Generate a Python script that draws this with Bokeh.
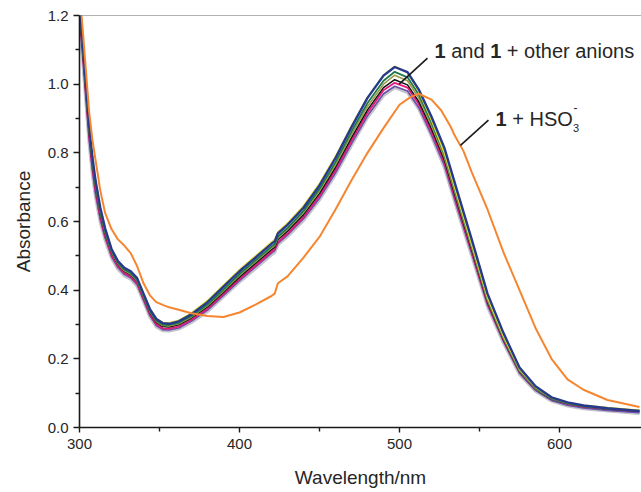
from bokeh.plotting import figure
from bokeh.models import Range1d, FixedTicker, PrintfTickFormatter, Label, ColumnDataSource, Span
from bokeh.embed import file_html
from bokeh.resources import INLINE

# ---------------- data ----------------
wavelength = [300, 302, 304, 306, 308, 310, 313, 316, 320, 324, 328, 332, 336, 340, 344, 348, 352, 356, 362, 370,
              380, 390, 400, 410, 420, 422, 424, 430, 440, 450, 460, 470, 480, 490, 497, 505, 512, 520, 528, 536,
              545, 555, 565, 575, 585, 595, 605, 615, 630, 650]

blue = [1.24, 1.12, 1.00, 0.88, 0.79, 0.72, 0.64, 0.58, 0.52, 0.485, 0.465, 0.455, 0.435, 0.39, 0.345, 0.316, 0.304, 0.302, 0.309, 0.33,
        0.365, 0.41, 0.455, 0.495, 0.535, 0.542, 0.565, 0.59, 0.64, 0.705, 0.785, 0.875, 0.96, 1.025, 1.05, 1.035, 0.985, 0.905, 0.815, 0.69,
        0.55, 0.39, 0.275, 0.175, 0.12, 0.088, 0.073, 0.064, 0.056, 0.048]
yellow = [1.24, 1.12, 1.0, 0.88, 0.79, 0.72, 0.64, 0.58, 0.52, 0.485, 0.465, 0.455, 0.435, 0.39, 0.346, 0.318, 0.306, 0.305, 0.312, 0.334,
          0.37, 0.415, 0.46, 0.5, 0.54, 0.547, 0.57, 0.595, 0.646, 0.711, 0.79, 0.879, 0.962, 1.026, 1.052, 1.033, 0.98, 0.895, 0.8, 0.675,
          0.535, 0.378, 0.265, 0.17, 0.117, 0.087, 0.073, 0.065, 0.058, 0.05]
green = [1.23, 1.11, 0.99, 0.87, 0.78, 0.71, 0.63, 0.572, 0.515, 0.48, 0.46, 0.45, 0.43, 0.385, 0.34, 0.312, 0.3, 0.299, 0.305, 0.325,
         0.358, 0.402, 0.447, 0.487, 0.527, 0.534, 0.556, 0.581, 0.631, 0.695, 0.773, 0.862, 0.945, 1.01, 1.036, 1.02, 0.97, 0.888, 0.796, 0.67,
         0.532, 0.375, 0.263, 0.168, 0.115, 0.085, 0.071, 0.063, 0.056, 0.049]
olive = [1.23, 1.11, 0.985, 0.865, 0.775, 0.705, 0.625, 0.568, 0.512, 0.477, 0.457, 0.447, 0.427, 0.382, 0.337, 0.309, 0.297, 0.296, 0.302, 0.322,
         0.355, 0.398, 0.443, 0.483, 0.523, 0.53, 0.552, 0.577, 0.626, 0.689, 0.766, 0.853, 0.935, 1.0, 1.026, 1.01, 0.96, 0.88, 0.788, 0.663,
         0.526, 0.37, 0.259, 0.165, 0.113, 0.084, 0.07, 0.062, 0.055, 0.048]
black = [1.22, 1.10, 0.98, 0.86, 0.77, 0.70, 0.62, 0.565, 0.51, 0.475, 0.455, 0.445, 0.425, 0.38, 0.335, 0.306, 0.294, 0.293, 0.299, 0.319,
         0.351, 0.394, 0.438, 0.478, 0.518, 0.525, 0.547, 0.572, 0.62, 0.682, 0.758, 0.844, 0.925, 0.99, 1.013, 0.998, 0.95, 0.87, 0.78, 0.656,
         0.52, 0.366, 0.256, 0.163, 0.112, 0.083, 0.069, 0.061, 0.054, 0.047]
pink = [1.21, 1.09, 0.97, 0.85, 0.76, 0.69, 0.612, 0.558, 0.503, 0.47, 0.45, 0.44, 0.42, 0.375, 0.33, 0.301, 0.289, 0.288, 0.294, 0.314,
        0.346, 0.389, 0.432, 0.472, 0.512, 0.519, 0.54, 0.565, 0.613, 0.675, 0.75, 0.836, 0.917, 0.982, 1.004, 0.99, 0.942, 0.862, 0.772, 0.648,
        0.514, 0.362, 0.254, 0.162, 0.112, 0.083, 0.069, 0.061, 0.054, 0.047]
purple = [1.2, 1.08, 0.96, 0.84, 0.75, 0.68, 0.605, 0.552, 0.498, 0.466, 0.446, 0.436, 0.416, 0.371, 0.326, 0.297, 0.285, 0.284, 0.29, 0.31,
          0.342, 0.385, 0.428, 0.468, 0.508, 0.515, 0.536, 0.561, 0.608, 0.668, 0.742, 0.827, 0.908, 0.972, 0.994, 0.98, 0.932, 0.852, 0.764, 0.641,
          0.508, 0.357, 0.25, 0.158, 0.108, 0.079, 0.065, 0.057, 0.05, 0.043]
gray = [1.19, 1.07, 0.95, 0.83, 0.74, 0.672, 0.598, 0.546, 0.493, 0.461, 0.442, 0.432, 0.412, 0.367, 0.322, 0.293, 0.282, 0.281, 0.287, 0.306,
        0.338, 0.381, 0.424, 0.463, 0.503, 0.51, 0.532, 0.556, 0.603, 0.663, 0.737, 0.822, 0.903, 0.967, 0.99, 0.976, 0.928, 0.848, 0.758, 0.635,
        0.502, 0.352, 0.246, 0.155, 0.106, 0.077, 0.063, 0.055, 0.048, 0.041]

wavelength_hso3 = [300, 302, 304, 306, 308, 310, 313, 316, 320, 324, 328, 332, 336, 340, 344, 348, 352, 356, 362, 370,
                   380, 390, 400, 410, 420, 422, 424, 430, 440, 450, 460, 470, 480, 490, 500, 507, 512, 520, 526, 532,
                   534, 540, 545, 555, 565, 575, 585, 595, 605, 615, 630, 650]
hso3 = [1.27, 1.16, 1.04, 0.92, 0.84, 0.78, 0.69, 0.625, 0.578, 0.548, 0.53, 0.508, 0.47, 0.42, 0.385, 0.365, 0.357, 0.35, 0.343, 0.333,
        0.325, 0.322, 0.335, 0.358, 0.383, 0.39, 0.42, 0.44, 0.495, 0.555, 0.635, 0.72, 0.80, 0.872, 0.94, 0.963, 0.972, 0.955, 0.924, 0.876,
        0.855, 0.805, 0.745, 0.635, 0.51, 0.40, 0.29, 0.20, 0.14, 0.11, 0.08, 0.06]

x_ticks = [300, 400, 500, 600]
x_minor = [350, 450, 550]
y_ticks = [0.0, 0.2, 0.4, 0.6, 0.8, 1.0, 1.2]
y_minor = [0.1, 0.3, 0.5, 0.7, 0.9, 1.1]

FONT = "Liberation Sans"
TXT = "#262626"

# ---------------- figure ----------------
p = figure(width=641, height=492, output_backend="svg", toolbar_location=None,
           x_range=Range1d(300, 651.25), y_range=Range1d(0, 1.2),
           min_border_left=79, min_border_right=0, min_border_top=15, min_border_bottom=65)
p.background_fill_color = "white"
p.border_fill_color = "white"
p.outline_line_color = None
p.xgrid.visible = False
p.ygrid.visible = False

p.add_layout(Span(location=1.2, dimension="width", line_color="#666666", line_width=1.2))

src = ColumnDataSource(dict(x=wavelength, blue=blue, yellow=yellow, green=green, olive=olive,
                            black=black, pink=pink, purple=purple, gray=gray))
p.line("x", "gray", source=src, line_color="#c3c3cb", line_width=3.2)
p.line("x", "purple", source=src, line_color="#6a50a8", line_width=1.6)
p.line("x", "pink", source=src, line_color="#e6197b", line_width=1.8)
p.line("x", "black", source=src, line_color="#111111", line_width=1.5)
p.line("x", "olive", source=src, line_color="#9d9a4a", line_width=1.6)
p.line("x", "green", source=src, line_color="#1e7a4c", line_width=1.8)
p.line("x", "yellow", source=src, line_color="#e3db35", line_width=1.6)
p.line("x", "blue", source=src, line_color="#26398c", line_width=2.4)
p.line(wavelength_hso3, hso3, line_color="#f5862f", line_width=2.0)

# axes
for ax in (p.xaxis[0], p.yaxis[0]):
    ax.axis_line_color = "#1a1a1a"
    ax.axis_line_width = 1.6
    ax.major_tick_line_color = "#1a1a1a"
    ax.minor_tick_line_color = "#1a1a1a"
    ax.major_tick_line_width = 1.4
    ax.minor_tick_line_width = 1.4
    ax.major_tick_in = 0
    ax.minor_tick_in = 0
    ax.major_label_text_font = FONT
    ax.major_label_text_font_size = "15px"
    ax.major_label_text_color = TXT
    ax.axis_label_text_font = FONT
    ax.axis_label_text_font_size = "19px"
    ax.axis_label_text_font_style = "normal"
    ax.axis_label_text_color = TXT

p.xaxis.ticker = FixedTicker(ticks=x_ticks, minor_ticks=x_minor)
p.yaxis.ticker = FixedTicker(ticks=y_ticks, minor_ticks=y_minor)
p.yaxis.formatter = PrintfTickFormatter(format="%.1f")
p.xaxis.major_tick_out = 5
p.xaxis.minor_tick_out = 4
p.yaxis.major_tick_out = 6
p.yaxis.minor_tick_out = 4
p.xaxis.major_label_standoff = 6
p.yaxis.major_label_standoff = 5
p.xaxis.axis_label = "Wavelength/nm"
p.yaxis.axis_label = "Absorbance"
p.xaxis.axis_label_standoff = 15
p.yaxis.axis_label_standoff = 11

# annotations
def lab(x, y, text, dx=0, dy=0, bold=False, size="20px"):
    p.add_layout(Label(x=x, y=y, text=text, x_offset=dx, y_offset=dy,
                       text_font=FONT, text_font_size=size, text_color=TXT,
                       text_font_style="bold" if bold else "normal",
                       text_align="left", text_baseline="alphabetic"))

lab(521.9, 1.083, "1", 0, 5, bold=True)
lab(521.9, 1.083, "and", 16.7, 5)
lab(521.9, 1.083, "1", 55.6, 5, bold=True)
lab(521.9, 1.083, "+ other anions", 72.3, 5)

lab(560.0, 0.882, "1", 0, 6, bold=True)
lab(560.0, 0.882, "+ HSO", 16.7, 6)
lab(560.0, 0.882, "3", 77.5, -3, size="11px")
lab(560.0, 0.882, "-", 78.0, 17, size="12px")

p.line([517.5, 499.8], [1.076, 1.0], line_color="#1a1a1a", line_width=1.6)
p.line([555.6, 538.1], [0.895, 0.822], line_color="#1a1a1a", line_width=1.6)

open("out.html", "w").write(file_html(p, INLINE))
